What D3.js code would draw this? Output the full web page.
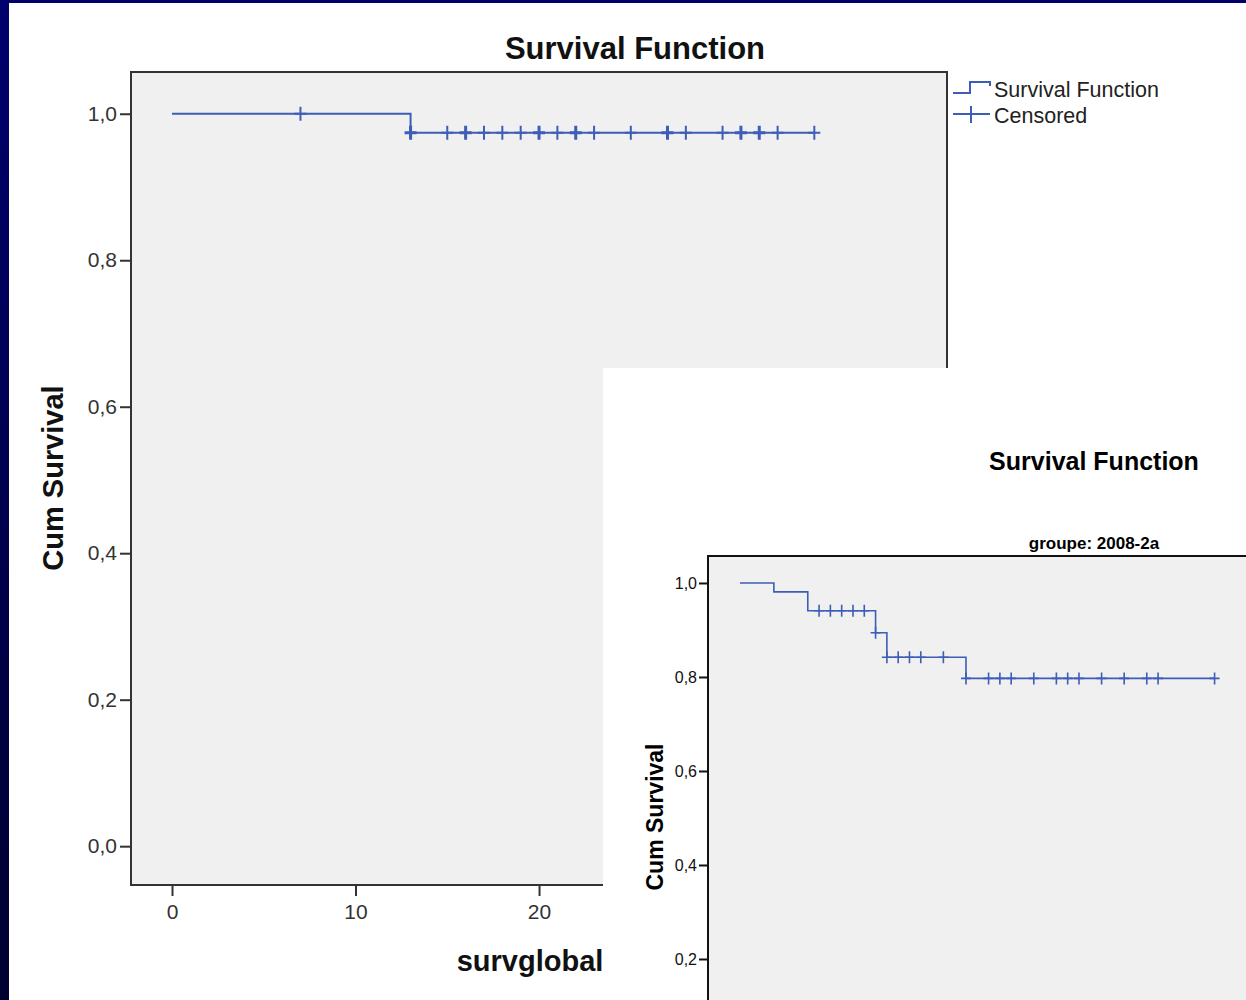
<!DOCTYPE html>
<html><head><meta charset="utf-8">
<script src="https://cdn.jsdelivr.net/npm/d3@7"></script>
<style>
html,body{margin:0;padding:0;background:#fff;overflow:hidden}
text{font-family:"Liberation Sans",Arial,sans-serif}
</style></head>
<body><svg id="c" width="1246" height="1000"></svg>
<script>
// ---- Data: main chart (all groups) ----
const mainEventTimes = [0, 13];
const mainSurvival   = [1.0, 0.974];
const mainEndTime    = 35;
const mainCensored   = [7, 13, 13, 15, 16, 16, 17, 18, 19, 20, 20, 21, 22, 22, 23, 25, 27, 27, 28, 30, 31, 31, 32, 32, 33, 35];
const mainXTicks     = [0, 10, 20, 30, 40];
const mainYTicks     = [0, 0.2, 0.4, 0.6, 0.8, 1.0];

// ---- Data: inset chart (groupe 2008-2a) ----
const insetEventTimes = [0, 3, 6, 12, 13, 20];
const insetSurvival   = [1.0, 0.981, 0.941, 0.894, 0.842, 0.797];
const insetEndTime    = 42;
const insetCensored   = [7, 8, 9, 10, 11, 12, 13, 14, 15, 16, 18, 20, 22, 23, 24, 26, 28, 29, 30, 32, 34, 36, 37, 42];
const insetYTicks     = [0.2, 0.4, 0.6, 0.8, 1.0];

const legendLabels = ["Survival Function", "Censored"];

const LINE = "#3d5db7";
const svg = d3.select("#c");
const fmt = d => d.toFixed(1).replace(".", ",");

// background slide frame
const defs = svg.append("defs");
const g = defs.append("linearGradient").attr("id","side").attr("x1",0).attr("y1",0).attr("x2",0).attr("y2",1);
g.append("stop").attr("offset","0%").attr("stop-color","#00006e");
g.append("stop").attr("offset","100%").attr("stop-color","#000030");
svg.append("rect").attr("x",0).attr("y",0).attr("width",1246).attr("height",1000).attr("fill","#fff");
svg.append("rect").attr("x",0).attr("y",0).attr("width",1246).attr("height",3).attr("fill","#000068");
svg.append("rect").attr("x",0).attr("y",0).attr("width",9).attr("height",1000).attr("fill","url(#side)");

function stepPoints(times, surv, end){
  const pts = times.map((t,i)=>[t, surv[i]]);
  pts.push([end, surv[surv.length-1]]);
  return pts;
}
function survAt(times, surv, t){
  let s = surv[0];
  for (let i=0;i<times.length;i++) if (times[i] <= t) s = surv[i];
  return s;
}

// ================= MAIN CHART =================
const xM = d3.scaleLinear().domain([-2.234, 42.23]).range([131, 947]);
const yM = d3.scaleLinear().domain([-0.053, 1.057]).range([885, 72]);

svg.append("rect").attr("x",131).attr("y",72).attr("width",816).attr("height",813)
  .attr("fill","#f0f0f0").attr("stroke","#333").attr("stroke-width",2);

const yAxM = svg.append("g").attr("transform","translate(131,0)")
  .call(d3.axisLeft(yM).tickValues(mainYTicks).tickFormat(fmt).tickSize(11).tickPadding(3));
yAxM.select(".domain").remove();
yAxM.selectAll("line").attr("stroke","#333").attr("stroke-width",2);
yAxM.selectAll("text").attr("font-size",21).attr("fill","#333").attr("font-family","Liberation Sans, Arial");

const xAxM = svg.append("g").attr("transform","translate(0,885)")
  .call(d3.axisBottom(xM).tickValues(mainXTicks).tickFormat(d3.format("d")).tickSize(11).tickPadding(8));
xAxM.select(".domain").remove();
xAxM.selectAll("line").attr("stroke","#333").attr("stroke-width",2);
xAxM.selectAll("text").attr("font-size",21).attr("fill","#333").attr("font-family","Liberation Sans, Arial");

const lineM = d3.line().x(d=>xM(d[0])).y(d=>yM(d[1])).curve(d3.curveStepAfter);
svg.append("path").datum(stepPoints(mainEventTimes, mainSurvival, mainEndTime))
  .attr("d", lineM).attr("fill","none").attr("stroke",LINE).attr("stroke-width",2);

const cntM = d3.rollup(mainCensored, v=>v.length, d=>d);
svg.append("g").selectAll("path").data(Array.from(cntM)).join("path")
  .attr("d", ([t]) => {
    const x = xM(t), y = yM(survAt(mainEventTimes, mainSurvival, t));
    return `M${x-6},${y}H${x+6}M${x},${y-7}V${y+7}`;
  })
  .attr("fill","none").attr("stroke",LINE).attr("stroke-width", ([,n]) => n>1 ? 3 : 2);

// titles
svg.append("text").attr("x",635).attr("y",59).attr("text-anchor","middle")
  .attr("font-size",31).attr("font-weight","bold").attr("fill","#111").text("Survival Function");
svg.append("text").attr("transform","translate(63,478) rotate(-90)").attr("text-anchor","middle")
  .attr("font-size",29).attr("font-weight","bold").attr("fill","#111").text("Cum Survival");
svg.append("text").attr("x",530).attr("y",971).attr("text-anchor","middle")
  .attr("font-size",29).attr("font-weight","bold").attr("fill","#111").text("survglobal");

// legend
svg.append("path").attr("d","M953,93H970V82H990V86").attr("fill","none").attr("stroke",LINE).attr("stroke-width",2);
svg.append("path").attr("d","M953,114H990M971,106V123").attr("fill","none").attr("stroke",LINE).attr("stroke-width",2);
svg.append("text").attr("x",994).attr("y",97).attr("font-size",21.5).attr("fill","#222").text(legendLabels[0]);
svg.append("text").attr("x",994).attr("y",123).attr("font-size",21.5).attr("fill","#222").text(legendLabels[1]);

// ================= INSET CHART =================
svg.append("rect").attr("x",603).attr("y",368).attr("width",643).attr("height",632).attr("fill","#fff");

const xI = d3.scaleLinear().domain([-2.83, 50]).range([708, 708 + 52.83*11.3]);
const yI = d3.scaleLinear().domain([0, 1.0574]).range([1053, 556]);

svg.append("rect").attr("x",708).attr("y",556).attr("width",620).attr("height",520)
  .attr("fill","#f0f0f0").attr("stroke","#111").attr("stroke-width",2);

const yAxI = svg.append("g").attr("transform","translate(708,0)")
  .call(d3.axisLeft(yI).tickValues(insetYTicks).tickFormat(fmt).tickSize(9).tickPadding(2));
yAxI.select(".domain").remove();
yAxI.selectAll("line").attr("stroke","#111").attr("stroke-width",2);
yAxI.selectAll("text").attr("font-size",16).attr("fill","#111").attr("font-family","Liberation Sans, Arial");

const lineI = d3.line().x(d=>xI(d[0])).y(d=>yI(d[1])).curve(d3.curveStepAfter);
svg.append("path").datum(stepPoints(insetEventTimes, insetSurvival, insetEndTime))
  .attr("d", lineI).attr("fill","none").attr("stroke",LINE).attr("stroke-width",1.6);

svg.append("g").selectAll("path").data(insetCensored).join("path")
  .attr("d", t => {
    const x = xI(t), y = yI(survAt(insetEventTimes, insetSurvival, t));
    return `M${x-5},${y}H${x+5}M${x},${y-6}V${y+6}`;
  })
  .attr("fill","none").attr("stroke",LINE).attr("stroke-width",1.6);

svg.append("text").attr("x",1094).attr("y",470).attr("text-anchor","middle")
  .attr("font-size",25).attr("font-weight","bold").attr("fill","#000").text("Survival Function");
svg.append("text").attr("x",1094).attr("y",549).attr("text-anchor","middle")
  .attr("font-size",17).attr("font-weight","bold").attr("fill","#000").text("groupe: 2008-2a");
svg.append("text").attr("transform","translate(663,817) rotate(-90)").attr("text-anchor","middle")
  .attr("font-size",23).attr("font-weight","bold").attr("fill","#000").text("Cum Survival");
</script></body></html>
